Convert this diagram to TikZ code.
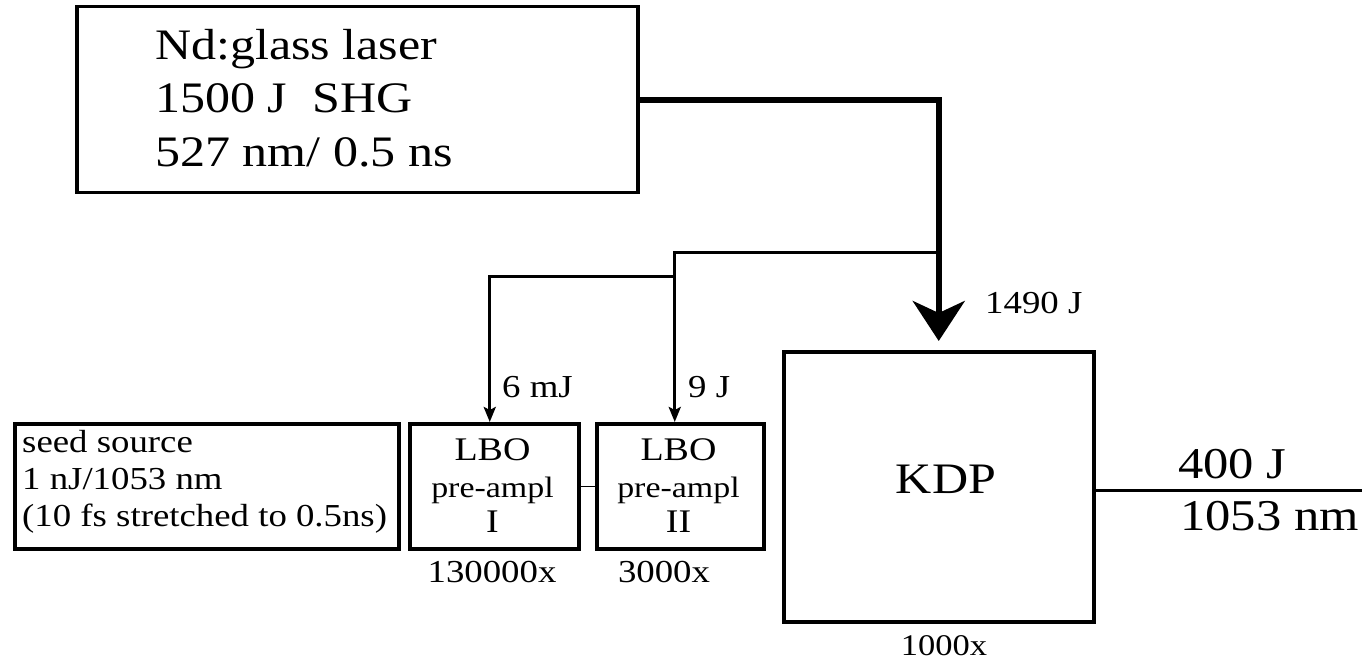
\documentclass[tikz,border=0pt]{standalone}
\usepackage{fontspec}
\setmainfont{Liberation Serif}[FakeStretch=1.15]
\usetikzlibrary{arrows.meta}
\newcommand\fsz[1]{\fontsize{#1}{#1}\selectfont}
\begin{document}
\begin{tikzpicture}[x=1pt,y=-1pt,
  box/.style={draw, line width=3.5pt, inner sep=0pt, anchor=north west},
  txt/.style={inner sep=0pt, anchor=base west},
  ctxt/.style={inner sep=0pt, anchor=base},
  beam/.style={line width=6pt, -{Stealth[length=40pt,width=52pt,inset=12pt]}},
  feed/.style={line width=3pt, -{Stealth[length=15pt,width=12pt,inset=3pt]}},
  link/.style={line width=1.5pt},
  outl/.style={line width=3pt}]
\useasboundingbox (0,0) rectangle (1362,660);

% boxes
\node[box, minimum width=561pt, minimum height=186pt] (laser) at (75,5) {};
\node[box, minimum width=384pt, minimum height=125pt] (seed) at (13,422) {};
\node[box, minimum width=169pt, minimum height=125pt] (lboa) at (408,422) {};
\node[box, minimum width=167pt, minimum height=125pt] (lbob) at (595,422) {};
\node[box, minimum width=310pt, minimum height=270pt] (kdp) at (782,350) {};

% laser text
\node[txt, font=\fsz{43.5}] (l1) at (155,60) {Nd:glass laser};
\node[txt, font=\fsz{43.5}] (l2) at (155,113) {1500 J\ \ SHG};
\node[txt, font=\fsz{43.5}] (l3) at (155,167) {527 nm/ 0.5 ns};

% seed text
\node[txt, font=\fsz{32}] (s1) at (22,452) {seed source};
\node[txt, font=\fsz{32}] (s2) at (22,489) {1 nJ/1053 nm};
\node[txt, font=\fsz{32}] (s3) at (22,526) {(10 fs stretched to 0.5ns)};

% LBO texts
\node[ctxt, font=\fsz{33}] (a1) at (492.5,460) {LBO};
\node[ctxt, font=\fsz{29.5}] (a2) at (492.5,497) {pre-ampl};
\node[ctxt, font=\fsz{33}] (a3) at (492.5,532) {I};
\node[ctxt, font=\fsz{33}] (b1) at (678.5,460) {LBO};
\node[ctxt, font=\fsz{29.5}] (b2) at (678.5,497) {pre-ampl};
\node[ctxt, font=\fsz{33}] (b3) at (678.5,532) {II};
\node[ctxt, font=\fsz{32}] (ga) at (492,582) {130000x};
\node[ctxt, font=\fsz{32}] (gb) at (664,582) {3000x};

% KDP texts
\node[ctxt, font=\fsz{43.5}] (k1) at (946,493) {KDP};
\node[ctxt, font=\fsz{30}] (gk) at (944,655) {1000x};

% beams
\draw[beam, shorten >=9pt] (laser.east) -| (kdp.north);
\coordinate (ja) at (937,253);
\coordinate (jb) at (673,277);
\draw[feed] (ja) -| ([xshift=-5.5pt]lbob.north);
\draw[feed] (jb) -| ([xshift=-4.5pt]lboa.north);
\draw[link] (lboa.east) -- (lbob.west);
\coordinate (out) at (1362,490);
\draw[outl] (kdp.east |- out) -- (out);

% labels
\node[txt, font=\fsz{32}] (e1) at (502,397) {6 mJ};
\node[txt, font=\fsz{32}] (e2) at (688,397) {9 J};
\node[txt, font=\fsz{32}] (e3) at (985,313) {1490 J};
\node[txt, font=\fsz{44}] (e4) at (1178,478) {400 J};
\node[txt, font=\fsz{44}] (e5) at (1180,530) {1053 nm};
\end{tikzpicture}
\end{document}
